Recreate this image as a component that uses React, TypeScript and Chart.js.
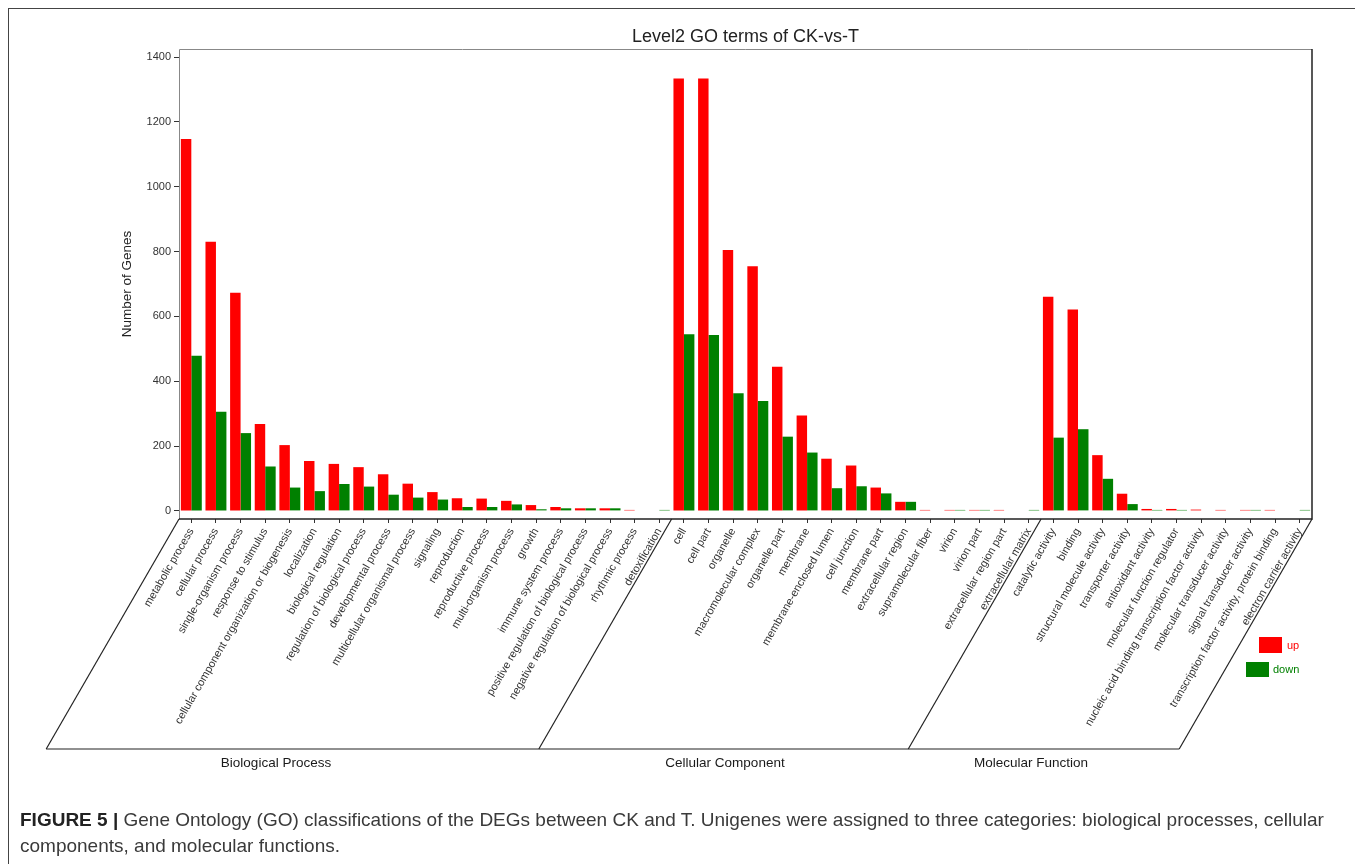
import React, { useEffect, useRef } from "react";
import { Chart, registerables } from "chart.js";

Chart.register(...registerables);

// GO level-2 terms, in plotting order
const categories = [
  "metabolic process", "cellular process", "single-organism process", "response to stimulus",
  "cellular component organization or biogenesis", "localization", "biological regulation",
  "regulation of biological process", "developmental process", "multicellular organismal process",
  "signaling", "reproduction", "reproductive process", "multi-organism process", "growth",
  "immune system process", "positive regulation of biological process",
  "negative regulation of biological process", "rhythmic process", "detoxification",
  "cell", "cell part", "organelle", "macromolecular complex", "organelle part", "membrane",
  "membrane-enclosed lumen", "cell junction", "membrane part", "extracellular region",
  "supramolecular fiber", "virion", "virion part", "extracellular region part", "extracellular matrix",
  "catalytic activity", "binding", "structural molecule activity", "transporter activity",
  "antioxidant activity", "molecular function regulator",
  "nucleic acid binding transcription factor activity", "molecular transducer activity",
  "signal transducer activity", "transcription factor activity, protein binding",
  "electron carrier activity",
];

// Up-regulated gene counts per term
const upCounts = [
  1147, 830, 673, 268, 203, 154, 145, 135, 113, 84, 58, 39, 38, 31, 18, 12, 8, 8, 3, 0,
  1334, 1334, 805, 755, 445, 294, 161, 140, 72, 28, 3, 3, 3, 3, 0,
  661, 621, 172, 53, 6, 6, 4, 3, 3, 3, 0,
];

// Down-regulated gene counts per term
const downCounts = [
  479, 306, 240, 137, 72, 61, 83, 75, 50, 41, 35, 12, 12, 20, 5, 8, 8, 8, 0, 3,
  545, 543, 363, 339, 229, 180, 70, 76, 54, 28, 0, 3, 3, 0, 3,
  226, 252, 99, 21, 3, 3, 0, 0, 3, 0, 3,
];

// GO ontologies and how many terms each one holds
const groupNames = ["Biological Process", "Cellular Component", "Molecular Function"];
const groupSizes = [20, 15, 11];

const yTicks = [0, 200, 400, 600, 800, 1000, 1200, 1400];

const FONT = '"Liberation Sans", Arial, Helvetica, sans-serif';
const UP_COLOR = "#ff0000";
const DOWN_COLOR = "#008000";

// Frame, titles, ontology brackets and legend drawn around the plot
const decorPlugin = {
  id: "goDecor",
  afterDraw(chart: any) {
    const { ctx, chartArea: a, scales } = chart;
    const xs = scales.x;
    ctx.save();

    // plot frame
    ctx.strokeStyle = "#888";
    ctx.lineWidth = 1;
    ctx.beginPath();
    ctx.moveTo(a.left + 0.5, a.bottom);
    ctx.lineTo(a.left + 0.5, a.top + 0.5);
    ctx.lineTo(a.right, a.top + 0.5);
    ctx.stroke();
    ctx.strokeStyle = "#222";
    ctx.lineWidth = 1.5;
    ctx.beginPath();
    ctx.moveTo(a.left, a.bottom);
    ctx.lineTo(a.right, a.bottom);
    ctx.lineTo(a.right, a.top);
    ctx.stroke();

    // chart title
    ctx.fillStyle = "#222";
    ctx.font = `18px ${FONT}`;
    ctx.textAlign = "center";
    ctx.textBaseline = "middle";
    ctx.fillText("Level2 GO terms of CK-vs-T", (a.left + a.right) / 2, 37);

    // y-axis title
    ctx.save();
    ctx.translate(127, 284);
    ctx.rotate(-Math.PI / 2);
    ctx.font = `13.5px ${FONT}`;
    ctx.fillText("Number of Genes", 0, 0);
    ctx.restore();

    // ontology brackets: slanted dividers and a base line
    const baseY = 749;
    const shift = (baseY - a.bottom) / Math.tan((60 * Math.PI) / 180);
    const bounds: number[] = [a.left];
    let idx = 0;
    groupSizes.forEach((n, i) => {
      idx += n;
      if (i < groupSizes.length - 1) {
        bounds.push((xs.getPixelForValue(idx - 1) + xs.getPixelForValue(idx)) / 2);
      }
    });
    bounds.push(a.right);

    ctx.strokeStyle = "#222";
    ctx.lineWidth = 1.2;
    bounds.forEach((b) => {
      ctx.beginPath();
      ctx.moveTo(b, a.bottom);
      ctx.lineTo(b - shift, baseY);
      ctx.stroke();
    });
    ctx.beginPath();
    ctx.moveTo(bounds[0] - shift, baseY);
    ctx.lineTo(bounds[bounds.length - 1] - shift, baseY);
    ctx.stroke();

    // ontology names under the brackets
    const labelCenters = [276, 725, 1031];
    ctx.fillStyle = "#1a1a1a";
    ctx.font = `13.5px ${FONT}`;
    ctx.textAlign = "center";
    groupNames.forEach((g, i) => ctx.fillText(g, labelCenters[i], 763));

    // legend
    ctx.textAlign = "left";
    ctx.font = `11px ${FONT}`;
    ctx.fillStyle = UP_COLOR;
    ctx.fillRect(1259, 637, 23, 16);
    ctx.fillText("up", 1287, 646);
    ctx.fillStyle = DOWN_COLOR;
    ctx.fillRect(1246, 662, 23, 15);
    ctx.fillText("down", 1273, 670);

    ctx.restore();
  },
};

export default function App() {
  const canvasRef = useRef<HTMLCanvasElement>(null);

  useEffect(() => {
    const canvas = canvasRef.current;
    if (!canvas) return;
    const chart = new Chart(canvas, {
      type: "bar",
      data: {
        labels: categories,
        datasets: [
          {
            label: "up",
            data: upCounts,
            backgroundColor: UP_COLOR,
            borderWidth: 0,
            categoryPercentage: 0.85,
            barPercentage: 1,
          },
          {
            label: "down",
            data: downCounts,
            backgroundColor: DOWN_COLOR,
            borderWidth: 0,
            categoryPercentage: 0.85,
            barPercentage: 1,
          },
        ],
      },
      options: {
        responsive: false,
        animation: false,
        events: [],
        layout: { padding: { top: 49, right: 43, left: 0, bottom: 0 } },
        plugins: {
          legend: { display: false },
          title: { display: false },
          tooltip: { enabled: false },
        },
        scales: {
          x: {
            grid: {
              display: true,
              drawOnChartArea: false,
              drawTicks: true,
              tickLength: 4,
              offset: false,
              color: "#333",
            },
            border: { display: false },
            ticks: {
              autoSkip: false,
              minRotation: 60,
              maxRotation: 60,
              padding: 3,
              color: "#333",
              font: { family: FONT, size: 11 },
            },
            afterFit: (s: any) => {
              s.height = 345;
            },
          },
          y: {
            min: -25,
            max: 1425,
            grid: { drawOnChartArea: false, tickLength: 5, color: "#333" },
            border: { display: false },
            ticks: {
              padding: 3,
              color: "#333",
              font: { family: FONT, size: 11 },
              callback: (v: any) => String(v),
            },
            afterBuildTicks: (s: any) => {
              s.ticks = yTicks.map((v) => ({ value: v }));
            },
            afterFit: (s: any) => {
              s.width = 179;
            },
          },
        },
      },
      plugins: [decorPlugin],
    });
    return () => chart.destroy();
  }, []);

  return (
    <div
      style={{
        position: "absolute",
        left: 0,
        top: 0,
        width: 1355,
        height: 864,
        overflow: "hidden",
        background: "#fff",
      }}
    >
      <div
        style={{
          position: "absolute",
          left: 8,
          top: 8,
          width: 1347,
          height: 856,
          borderLeft: "1.5px solid #444",
          borderTop: "1.5px solid #444",
          boxSizing: "border-box",
        }}
      />
      <canvas
        ref={canvasRef}
        width={1355}
        height={864}
        style={{ position: "absolute", left: 0, top: 0, width: 1355, height: 864 }}
      />
      <div
        style={{
          position: "absolute",
          left: 20,
          top: 807,
          fontFamily: FONT,
          fontSize: 19,
          lineHeight: "26px",
          color: "#3a3a3a",
          whiteSpace: "nowrap",
        }}
      >
        <b style={{ color: "#222" }}>FIGURE 5 |</b> Gene Ontology (GO) classifications of the DEGs
        between CK and T. Unigenes were assigned to three categories: biological processes, cellular
        <br />
        components, and molecular functions.
      </div>
    </div>
  );
}
